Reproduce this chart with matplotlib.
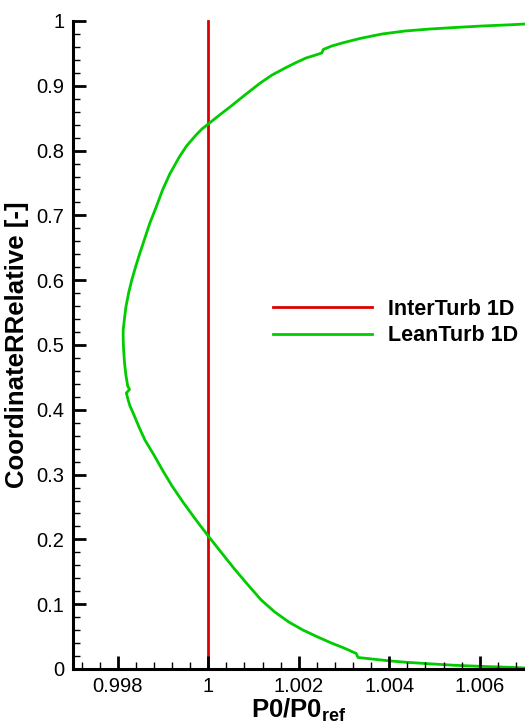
import matplotlib
matplotlib.use("Agg")
import matplotlib.pyplot as plt
from matplotlib.ticker import MultipleLocator, FixedLocator

plt.rcParams['font.family'] = ['Liberation Sans', 'DejaVu Sans']
plt.rcParams['mathtext.fontset'] = 'custom'
plt.rcParams['mathtext.rm'] = 'Liberation Sans'
plt.rcParams['mathtext.bf'] = 'Liberation Sans:bold'

# InterTurb 1D: uniform total pressure ratio
inter_p0 = [1.0, 1.0]
inter_r = [0.0, 1.0]

# LeanTurb 1D: radial total pressure ratio profile (hub -> tip)
lean_p0 = [1.00700, 1.00667, 1.00605, 1.00545, 1.00490, 1.00435, 1.00399,
           1.00362, 1.00331, 1.00327, 1.00300, 1.00272, 1.00242, 1.00209,
           1.00178, 1.00147, 1.00117, 1.00088, 1.00058, 1.00028, 1.00000,
           0.99973, 0.99944, 0.99920, 0.99900, 0.99880, 0.99860, 0.99847,
           0.99834, 0.99827, 0.99823, 0.99819, 0.99826, 0.99822, 0.99818,
           0.99815, 0.99813, 0.99812, 0.99812, 0.99815, 0.99818, 0.99824,
           0.99831, 0.99840, 0.99849, 0.99860, 0.99871, 0.99885, 0.99899,
           0.99915, 0.99936, 0.99952, 0.99973, 0.99986, 1.00000, 1.00025,
           1.00048, 1.00081, 1.00115, 1.00141, 1.00170, 1.00192, 1.00216,
           1.00234, 1.00251, 1.00254, 1.00273, 1.00296, 1.00335, 1.00384,
           1.00435, 1.00490, 1.00545, 1.00605, 1.00667, 1.00700]
lean_r = [0.00154, 0.00262, 0.00401, 0.00571, 0.00802, 0.01049, 0.01265,
          0.01543, 0.01775, 0.02392, 0.03241, 0.04012, 0.04938, 0.06019,
          0.07253, 0.08796, 0.10648, 0.12963, 0.15432, 0.18056, 0.20525,
          0.22994, 0.25772, 0.28241, 0.30556, 0.33025, 0.35340, 0.37346,
          0.39506, 0.40586, 0.41512, 0.42593, 0.43133, 0.43673, 0.45370,
          0.47222, 0.49228, 0.50772, 0.52315, 0.54167, 0.55864, 0.58025,
          0.60031, 0.62191, 0.64198, 0.66512, 0.68827, 0.71296, 0.73920,
          0.76389, 0.79012, 0.80710, 0.82407, 0.83333, 0.84105, 0.85494,
          0.86728, 0.88580, 0.90432, 0.91667, 0.92747, 0.93519, 0.94290,
          0.94676, 0.95062, 0.95602, 0.96142, 0.96605, 0.97299, 0.97994,
          0.98457, 0.98765, 0.98997, 0.99228, 0.99414, 0.99537]

x_major = [0.998, 1.0, 1.002, 1.004, 1.006]
x_labels = ['0.998', '1', '1.002', '1.004', '1.006']
y_major = [0.0, 0.1, 0.2, 0.3, 0.4, 0.5, 0.6, 0.7, 0.8, 0.9, 1.0]
y_labels = ['0', '0.1', '0.2', '0.3', '0.4', '0.5', '0.6', '0.7', '0.8', '0.9', '1']

W, H = 525, 725
fig = plt.figure(figsize=(W / 100, H / 100), dpi=100)
left, right, top, bottom = 72.5, 525.0, 21.0, 669.0
ax = fig.add_axes([left / W, 1 - bottom / H, (right - left) / W, (bottom - top) / H])

ax.plot(inter_p0, inter_r, color='#dd0000', lw=2.0, label='InterTurb 1D', clip_on=False)
ax.plot(lean_p0, lean_r, color='#00cc00', lw=2.0, label='LeanTurb 1D')

ax.set_xlim(0.997, 1.007)
ax.set_ylim(0.0, 1.0)

ax.xaxis.set_major_locator(FixedLocator(x_major))
ax.set_xticklabels(x_labels)
ax.xaxis.set_minor_locator(MultipleLocator(0.0004))
ax.yaxis.set_major_locator(FixedLocator(y_major))
ax.set_yticklabels(y_labels)
ax.yaxis.set_minor_locator(MultipleLocator(0.02))

ax.set_axisbelow(False)
for side in ('top', 'right'):
    ax.spines[side].set_visible(False)
for side in ('left', 'bottom'):
    ax.spines[side].set_linewidth(2.2)
    ax.spines[side].set_zorder(3)

ax.tick_params(which='major', direction='in', length=9.5, width=2.0,
               labelsize=14.5, pad=6, color='black')
ax.tick_params(which='minor', direction='in', length=5, width=1.0, color='black')

ax.set_xlabel(r'$\mathbf{P0/P0}_{\mathbf{ref}}$', fontsize=18.5, labelpad=0)
ax.set_ylabel('CoordinateRRelative [-]', fontsize=18.5, fontweight='bold', labelpad=5)

ax.legend(loc='upper left', bbox_to_anchor=((273 - left) / (right - left), 1 - (299 - top) / (bottom - top)),
          frameon=False, handlelength=4.6, handletextpad=0.75,
          labelspacing=0.25, borderaxespad=0, borderpad=0,
          prop={'weight': 'bold', 'size': 15.5})

fig.savefig('out.png', dpi=100)
